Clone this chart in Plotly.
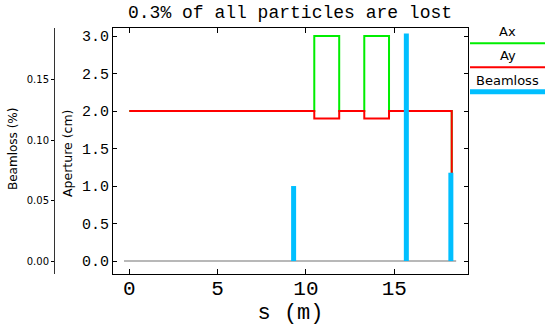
import plotly.graph_objects as go

# Data
s_ap = [0, 10.47, 10.47, 11.88, 11.88, 13.3, 13.3, 14.7, 14.7, 18.25, 18.25]
ax_ap = [2.0, 2.0, 3.0, 3.0, 2.0, 2.0, 3.0, 3.0, 2.0, 2.0, 0.0]
ay_ap = [2.0, 2.0, 1.9, 1.9, 2.0, 2.0, 1.9, 1.9, 2.0, 2.0, 0.0]
loss_s = [9.3, 15.68, 18.2]
loss_pct = [0.062, 0.188, 0.073]
base_s = [-0.3, 18.5]
base_v = [0.0, 0.0]
title_text = "0.3% of all particles are lost"

# plot geometry (pixels)
W, H = 547, 332
L, R, T, B = 54, 468, 28, 274
PW, PH = R - L, B - T
def px(x):
    return (x - L) / PW
def py(y):
    return (B - y) / PH

mono = "Liberation Mono"
sans = "DejaVu Sans"

fig = go.Figure()
fig.add_trace(go.Scatter(x=base_s, y=base_v, mode="lines",
                         line=dict(color="#a0a0a0", width=1.5), showlegend=False))
fig.add_trace(go.Scatter(x=s_ap, y=ax_ap, mode="lines", name="Ax",
                         line=dict(color="#00ee00", width=2), showlegend=False))
fig.add_trace(go.Scatter(x=s_ap, y=ay_ap, mode="lines", name="Ay",
                         line=dict(color="#ff0000", width=2), showlegend=False))
bx, by = [], []
for s, v in zip(loss_s, loss_pct):
    bx += [s, s, None]
    by += [0, v, None]
fig.add_trace(go.Scatter(x=bx, y=by, mode="lines", name="Beamloss", yaxis="y2",
                         line=dict(color="#00bfff", width=5), showlegend=False))

fig.update_layout(
    width=W, height=H,
    margin=dict(l=L, r=W - R, t=T, b=H - B, pad=0, autoexpand=False),
    paper_bgcolor="white", plot_bgcolor="white",
    showlegend=False,
    xaxis=dict(domain=[px(113), 1], range=[-0.922, 19.17], dtick=5, tick0=0,
               automargin=False, ticklabelstandoff=-5,
               ticks="inside", ticklen=5, tickcolor="black", showline=True,
               linecolor="black", linewidth=1, mirror="ticks", showgrid=False,
               zeroline=False, tickfont=dict(family=mono, size=21, color="black"),
               title=dict(text="s (m)", font=dict(family=mono, size=22, color="black"),
                          standoff=0)),
    yaxis=dict(range=[-0.173, 3.107], dtick=0.5, tick0=0, tickformat=".1f",
               automargin=False,
               ticks="inside", ticklen=4, tickcolor="black", showline=True,
               linecolor="black", linewidth=1, mirror="ticks", showgrid=False,
               zeroline=False, tickfont=dict(family=mono, size=15, color="black")),
    yaxis2=dict(range=[-0.0107, 0.1926], dtick=0.05, tick0=0, tickformat=".2f",
                automargin=False,
                overlaying="y", anchor="free", position=0, side="left",
                ticks="outside", ticklen=3, tickcolor="black", showline=True,
                linecolor="#333", linewidth=1, showgrid=False, zeroline=False,
                tickfont=dict(family=sans, size=10, color="black")),
)

ann = [
    dict(text=title_text, x=px(289.5), y=py(12.5), font=dict(family=mono, size=18, color="black")),
    dict(text="Beamloss (%)", x=px(13), y=py(149), textangle=-90, font=dict(family=sans, size=12, color="black")),
    dict(text="Aperture (cm)", x=px(67), y=py(154), textangle=-90, font=dict(family=sans, size=12.5, color="black")),
    dict(text="Ax", x=px(507.7), y=py(31.7), font=dict(family=sans, size=13, color="black")),
    dict(text="Ay", x=px(507.7), y=py(55), font=dict(family=sans, size=13, color="black")),
    dict(text="Beamloss", x=px(507.7), y=py(80), font=dict(family=sans, size=13, color="black")),
]
for a in ann:
    fig.add_annotation(xref="paper", yref="paper", showarrow=False,
                       xanchor="center", yanchor="middle", **a)

for yy, col, wd in [(43.3, "#00ee00", 2), (67.3, "#ff0000", 2), (91.7, "#00bfff", 5)]:
    fig.add_shape(type="line", xref="paper", yref="paper",
                  x0=px(470), x1=px(545), y0=py(yy), y1=py(yy),
                  line=dict(color=col, width=wd))

fig.write_html("out.html")
